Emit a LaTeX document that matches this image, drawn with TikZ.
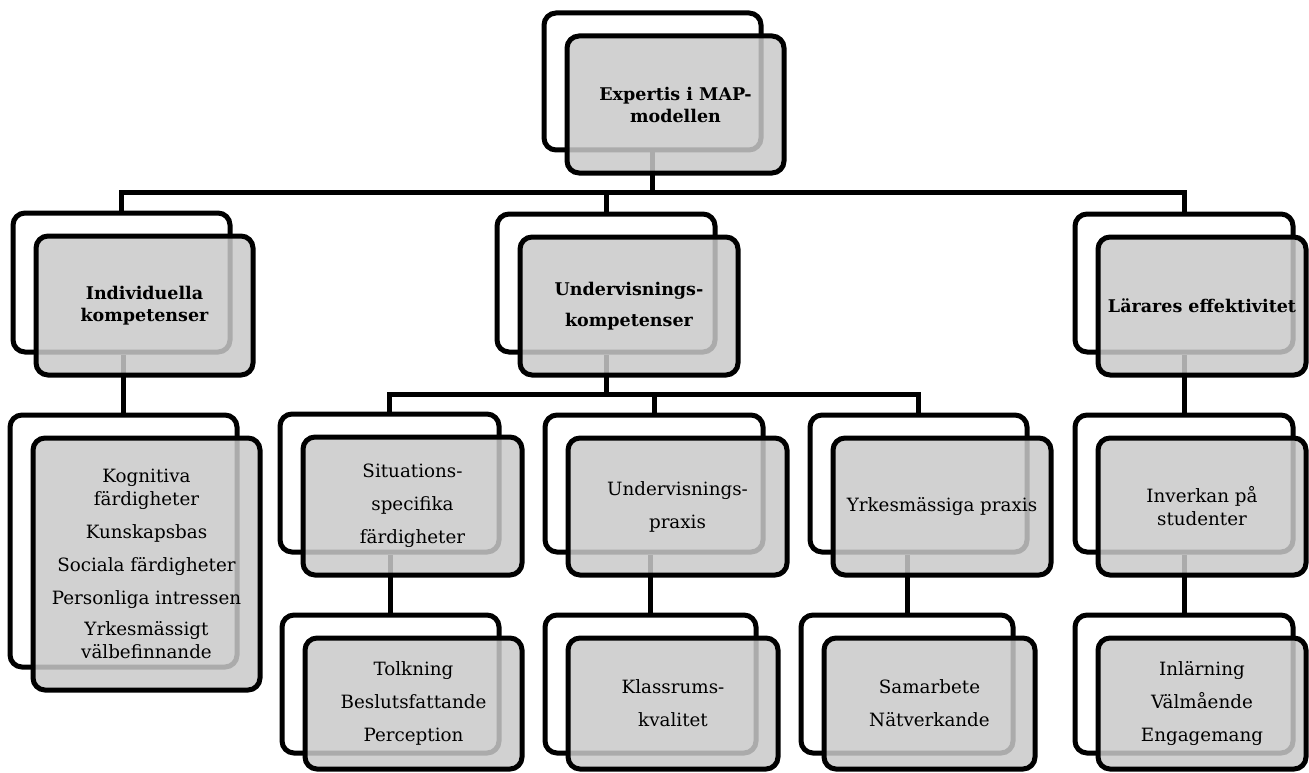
\documentclass[tikz,border=0pt]{standalone}
\usepackage{fontspec}
\setmainfont{DejaVu Serif}
\usetikzlibrary{backgrounds}
\newcommand\regf{\fontsize{18.3}{23}\selectfont}
\newcommand\boldf{\bfseries\fontsize{17.5}{22}\selectfont}
\definecolor{frontgray}{RGB}{201,201,201}
\tikzset{
  backbox/.style={draw=black, line width=5pt, rounded corners=12pt, fill=white, inner sep=0pt},
  frontbox/.style={draw=black, line width=5pt, rounded corners=12pt, fill=frontgray,
    fill opacity=0.85, text opacity=1, draw opacity=1, inner sep=0pt, align=center, font=\regf},
  link/.style={draw=black, line width=5pt}
}
% #1 options for front node, #2 name, #3..#6 back box x1,y1,x2,y2, #7 #8 front x2,y2, #9 text
\newcommand\twobox[9][]{%
  \pgfmathsetmacro\bcx{(#3+#5)/2}\pgfmathsetmacro\bcy{(#4+#6)/2}%
  \pgfmathsetmacro\bw{#5-#3}\pgfmathsetmacro\bh{#6-#4}%
  \pgfmathsetmacro\fcx{(#3+23+#7)/2}\pgfmathsetmacro\fcy{(#4+23+#8)/2}%
  \pgfmathsetmacro\fw{#7-#3-23}\pgfmathsetmacro\fh{#8-#4-23}%
  \node[backbox, minimum width=\bw pt, minimum height=\bh pt] (#2B) at (\bcx,\bcy) {};
  \node[frontbox, minimum width=\fw pt, minimum height=\fh pt, #1] (#2) at (\fcx,\fcy) {#9};
}
\begin{document}
\begin{tikzpicture}[x=1pt,y=-1pt]
\useasboundingbox (0,0) rectangle (1309,773);
% level 0
\twobox[font=\boldf]{top}{544}{13}{761}{150}{784}{173}{Expertis i MAP-\\modellen}
% level 1
\twobox[font=\boldf]{ind}{13}{213}{230}{352}{253}{375}{Individuella\\kompetenser}
\twobox[font=\boldf]{und}{497}{214}{715}{352}{738}{375}{Undervisnings-\\[9pt]kompetenser}
\twobox[font=\boldf]{lar}{1075}{214}{1293}{352}{1306}{375}{Lärares effektivitet}
% level 2
\twobox{kog}{10}{415}{237}{667}{260}{690}{Kognitiva\\färdigheter\\[10pt]Kunskapsbas\\[10pt]Sociala färdigheter\\[10pt]Personliga intressen\\[8pt]Yrkesmässigt\\välbefinnande}
\twobox{sit}{280}{414}{499}{552}{522}{575}{Situations-\\[10pt]specifika\\[10pt]färdigheter}
\twobox{upr}{545}{415}{763}{552}{787}{575}{Undervisnings-\\[10pt]praxis}
\twobox{yrk}{810}{415}{1027}{552}{1051}{575}{Yrkesmässiga praxis}
\twobox{inv}{1075}{415}{1293}{552}{1306}{575}{Inverkan på\\studenter}
% level 3
\twobox{tol}{282}{615}{499}{753}{522}{769}{Tolkning\\[10pt]Beslutsfattande\\[10pt]Perception}
\twobox{kla}{545}{615}{756}{753}{778}{769}{Klassrums-\\[10pt]kvalitet}
\twobox{sam}{801}{615}{1013}{753}{1035}{769}{Samarbete\\[10pt]Nätverkande}
\twobox{inl}{1075}{615}{1293}{753}{1306}{769}{Inlärning\\[10pt]Välmående\\[10pt]Engagemang}
% connectors
\begin{scope}[on background layer]
\coordinate (bus1) at (0,192);
\coordinate (bus2) at (0,394);
\draw[link] (topB.south) -- (topB.south |- bus1);
\draw[link] (indB.north) |- (topB.south |- bus1) -| (larB.north);
\draw[link] (undB.north) -- (undB.north |- bus1);
\draw[link] (kogB.north) -- (kogB.north |- indB.south);
\draw[link] (undB.south) -- (undB.south |- bus2);
\draw[link] (sitB.north) |- (undB.south |- bus2) -| (yrkB.north);
\draw[link] (uprB.north) -- (uprB.north |- bus2);
\draw[link] (invB.north) -- (invB.north |- larB.south);
\draw[link] (tolB.north) -- (tolB.north |- sitB.south);
\draw[link] (klaB.north) -- (klaB.north |- uprB.south);
\draw[link] (samB.north) -- (samB.north |- yrkB.south);
\draw[link] (inlB.north) -- (inlB.north |- invB.south);
\end{scope}
\end{tikzpicture}
\end{document}
